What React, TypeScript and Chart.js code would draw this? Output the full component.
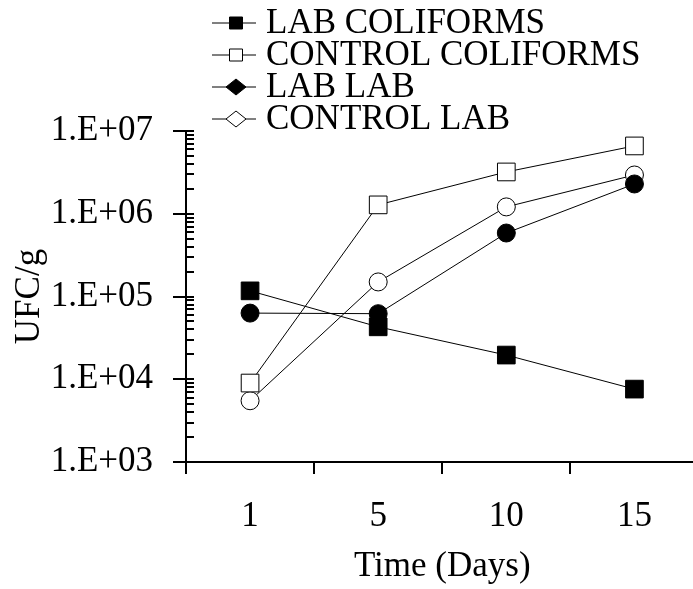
import React, { useEffect, useRef } from "react";
import { Chart, registerables } from "chart.js";

Chart.register(...registerables);

const DAYS = ["1", "5", "10", "15"];
const LAB_COLIFORMS = [1.17e5, 4.3e4, 1.96e4, 7.6e3];
const CONTROL_COLIFORMS = [9.0e3, 1.28e6, 3.2e6, 6.6e6];
const LAB_LAB = [6.3e4, 6.2e4, 5.85e5, 2.29e6];
const CONTROL_LAB = [5.5e3, 1.5e5, 1.21e6, 2.94e6];
const Y_TICKS = [1e3, 1e4, 1e5, 1e6, 1e7];
const Y_TICK_LABELS = ["1.E+03", "1.E+04", "1.E+05", "1.E+06", "1.E+07"];
const MINOR_FACTORS = [2, 3, 4, 5, 6, 7, 8, 9];
const LEGEND_LABELS = ["LAB COLIFORMS", "CONTROL COLIFORMS", "LAB LAB", "CONTROL LAB"];
const LEGEND_SHAPES = ["square", "square", "diamond", "diamond"];

const FONT_FAMILY = "'Liberation Serif', 'Times New Roman', serif";

const axisTicksPlugin = {
  id: "axisTicks",
  afterDraw(chart: any) {
    const ctx = chart.ctx;
    const y = chart.scales.y;
    const x = chart.scales.x;
    const x0 = chart.chartArea.left;
    const yb = chart.chartArea.bottom;
    ctx.save();
    ctx.strokeStyle = "#000";
    ctx.lineWidth = 2;
    ctx.beginPath();
    for (let i = 0; i < Y_TICKS.length; i++) {
      const py = Math.round(y.getPixelForValue(Y_TICKS[i]));
      ctx.moveTo(x0 - 13, py);
      ctx.lineTo(x0 + 8, py);
    }
    const half = (x.getPixelForValue(1) - x.getPixelForValue(0)) / 2;
    for (let i = 0; i < DAYS.length; i++) {
      const px = Math.round(x.getPixelForValue(i) - half);
      ctx.moveTo(px, yb);
      ctx.lineTo(px, yb + 12);
    }
    for (let i = 0; i < Y_TICKS.length - 1; i++) {
      for (let k = 0; k < MINOR_FACTORS.length; k++) {
        const v = Y_TICKS[i] * MINOR_FACTORS[k];
        const pm = Math.round(y.getPixelForValue(v));
        ctx.moveTo(x0, pm);
        ctx.lineTo(x0 + 8, pm);
      }
    }
    ctx.stroke();
    ctx.restore();
  },
};

const legendPlugin = {
  id: "customLegend",
  afterDraw(chart: any) {
    const ctx = chart.ctx;
    ctx.save();
    ctx.font = `35px ${FONT_FAMILY}`;
    ctx.textBaseline = "middle";
    ctx.textAlign = "left";
    chart.data.datasets.forEach((ds: any, i: number) => {
      const cy = 23 + i * 32;
      ctx.strokeStyle = "#000";
      ctx.lineWidth = 1;
      ctx.beginPath();
      ctx.moveTo(212, cy);
      ctx.lineTo(256, cy);
      ctx.stroke();
      ctx.fillStyle = ds.pointBackgroundColor;
      ctx.beginPath();
      if (LEGEND_SHAPES[i] === "square") {
        ctx.rect(229.5, cy - 6, 13, 12);
      } else {
        ctx.moveTo(236, cy - 8);
        ctx.lineTo(246, cy);
        ctx.lineTo(236, cy + 8);
        ctx.lineTo(226, cy);
        ctx.closePath();
      }
      ctx.fill();
      ctx.stroke();
      ctx.fillStyle = "#000";
      ctx.fillText(LEGEND_LABELS[i], 266, cy + 1);
    });
    ctx.restore();
  },
};

export default function App() {
  const ref = useRef<HTMLCanvasElement | null>(null);

  useEffect(() => {
    if (!ref.current) return;
    const mk = (label: string, data: number[], fill: string, style: string, radius: number) => ({
      label,
      data,
      borderColor: "#000",
      borderWidth: 1,
      pointStyle: style,
      pointRadius: radius,
      pointBackgroundColor: fill,
      pointBorderColor: "#000",
      pointBorderWidth: 1,
      fill: false,
      tension: 0,
    });
    const chart = new Chart(ref.current, {
      type: "line",
      data: {
        labels: DAYS,
        datasets: [
          mk(LEGEND_LABELS[0], LAB_COLIFORMS, "#000", "rect", 12.5),
          mk(LEGEND_LABELS[1], CONTROL_COLIFORMS, "#fff", "rect", 12.5),
          mk(LEGEND_LABELS[2], LAB_LAB, "#000", "circle", 9),
          mk(LEGEND_LABELS[3], CONTROL_LAB, "#fff", "circle", 9),
        ],
      },
      options: {
        animation: false,
        responsive: true,
        maintainAspectRatio: false,
        layout: { padding: { top: 131, right: 10, left: 0, bottom: 0 } },
        plugins: { legend: { display: false }, tooltip: { enabled: false } },
        scales: {
          x: {
            type: "category",
            offset: true,
            grid: { display: false, drawTicks: false },
            border: { display: true, color: "#000", width: 2 },
            ticks: {
              color: "#000",
              font: { family: FONT_FAMILY, size: 35 },
              padding: 34,
              maxRotation: 0,
            },
            title: {
              display: true,
              text: "Time (Days)",
              color: "#000",
              font: { family: FONT_FAMILY, size: 35 },
              padding: { top: 0, bottom: 1 },
            },
            afterFit: (s: any) => {
              s.height = 127;
            },
          },
          y: {
            type: "logarithmic",
            min: 1e3,
            max: 1e7,
            grid: { display: false, drawTicks: false },
            border: { display: true, color: "#000", width: 2 },
            afterBuildTicks: (s: any) => {
              s.ticks = Y_TICKS.map((v) => ({ value: v }));
            },
            ticks: {
              autoSkip: false,
              color: "#000",
              font: { family: FONT_FAMILY, size: 35 },
              padding: 33,
              callback: (v: any) => {
                const idx = Y_TICKS.indexOf(Number(v));
                return idx >= 0 ? Y_TICK_LABELS[idx] : "";
              },
            },
            title: {
              display: true,
              text: "UFC/g",
              color: "#000",
              font: { family: FONT_FAMILY, size: 35 },
              padding: { top: 9, bottom: 0 },
            },
            afterFit: (s: any) => {
              s.width = 186;
            },
          },
        },
      },
      plugins: [axisTicksPlugin, legendPlugin],
    });
    return () => chart.destroy();
  }, []);

  return (
    <div style={{ position: "fixed", left: 0, top: 0, width: 693, height: 589, overflow: "hidden", background: "#fff" }}>
      <div style={{ position: "relative", width: 712, height: 589 }}>
        <canvas ref={ref} />
      </div>
    </div>
  );
}
